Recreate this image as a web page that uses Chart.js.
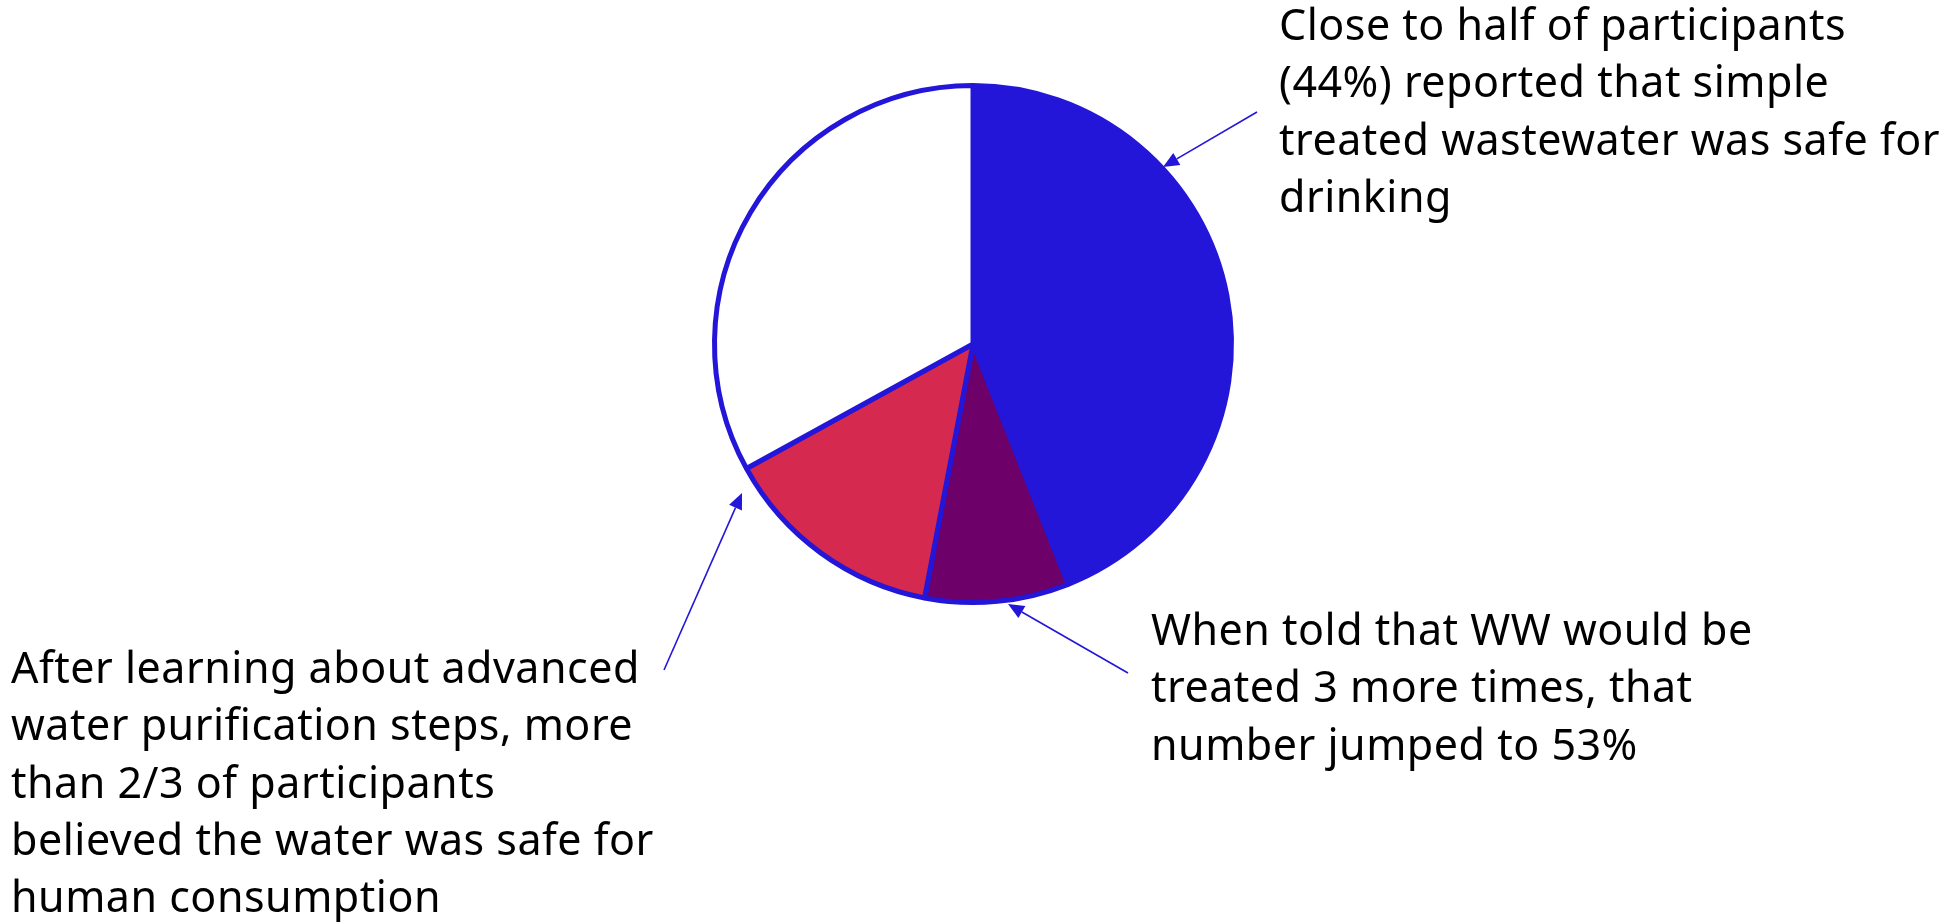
<!DOCTYPE html>
<html>
<head>
<meta charset="utf-8">
<title>Treated wastewater survey</title>
<script src="https://cdn.jsdelivr.net/npm/chart.js@4.4.1/dist/chart.umd.min.js"></script>
<style>
  html, body { margin: 0; padding: 0; background: #fff; overflow: hidden; }
  #wrap { position: relative; width: 1939px; height: 922px; }
</style>
</head>
<body>
<div id="wrap"><canvas id="myChart"></canvas></div>
<script>
// survey answers, in percent of participants
let labels = ['Safe after simple treatment', 'Safe after 3 more treatments', 'Safe after advanced purification', 'Not safe'];
let shares = [44, 9, 14, 33];
let colors = ['#2316d8', '#6e006a', '#d5294f', '#ffffff'];

let noteTop = ['Close to half of participants', '(44%) reported that simple', 'treated wastewater was safe for', 'drinking'];
let noteRight = ['When told that WW would be', 'treated 3 more times, that', 'number jumped to 53%'];
let noteLeft = ['After learning about advanced', 'water purification steps, more', 'than 2/3 of participants', 'believed the water was safe for', 'human consumption'];

// where each callout sits and where its arrow points
let callouts = [
  { lines: noteTop, x: 1279, y: 40, from: [1257, 112], to: [1163, 167] },
  { lines: noteRight, x: 1151, y: 645, from: [1128, 673], to: [1008, 604] },
  { lines: noteLeft, x: 11, y: 683, from: [664, 670], to: [742, 493] },
];

const ink = '#2316d8';

function arrow(ctx, from, to) {
  let ang = Math.atan2(to[1] - from[1], to[0] - from[0]);
  let len = 16, half = 7;
  let bx = to[0] - Math.cos(ang) * len;
  let by = to[1] - Math.sin(ang) * len;
  ctx.strokeStyle = ink;
  ctx.fillStyle = ink;
  ctx.lineWidth = 1.6;
  ctx.beginPath();
  ctx.moveTo(from[0], from[1]);
  ctx.lineTo(bx, by);
  ctx.stroke();
  ctx.beginPath();
  ctx.moveTo(to[0], to[1]);
  ctx.lineTo(bx - Math.sin(ang) * half, by + Math.cos(ang) * half);
  ctx.lineTo(bx + Math.sin(ang) * half, by - Math.cos(ang) * half);
  ctx.closePath();
  ctx.fill();
}

const calloutPlugin = {
  id: 'callouts',
  afterDraw(chart) {
    let ctx = chart.ctx;
    ctx.save();
    ctx.font = '43px "Noto Sans"';
    ctx.letterSpacing = '0.5px';
    ctx.textBaseline = 'alphabetic';
    ctx.textAlign = 'left';
    callouts.forEach(function (c) {
      ctx.fillStyle = '#000';
      c.lines.forEach(function (line, i) {
        ctx.fillText(line, c.x, c.y + i * 57.3);
      });
      arrow(ctx, c.from, c.to);
    });
    ctx.restore();
  },
};

let myChart = document.getElementById('myChart').getContext('2d');
let chart = new Chart(myChart, {
  type: 'pie',
  data: {
    labels: labels,
    datasets: [
      {
        data: shares,
        backgroundColor: colors,
        borderColor: ink,
        borderWidth: 5,
      },
    ],
  },
  options: {
    responsive: true,
    maintainAspectRatio: false,
    animation: false,
    layout: {
      padding: { left: 712, right: 705, top: 83, bottom: 317 },
    },
    plugins: {
      legend: { display: false },
      tooltip: { enabled: false },
    },
  },
  plugins: [calloutPlugin],
});
</script>
</body>
</html>
